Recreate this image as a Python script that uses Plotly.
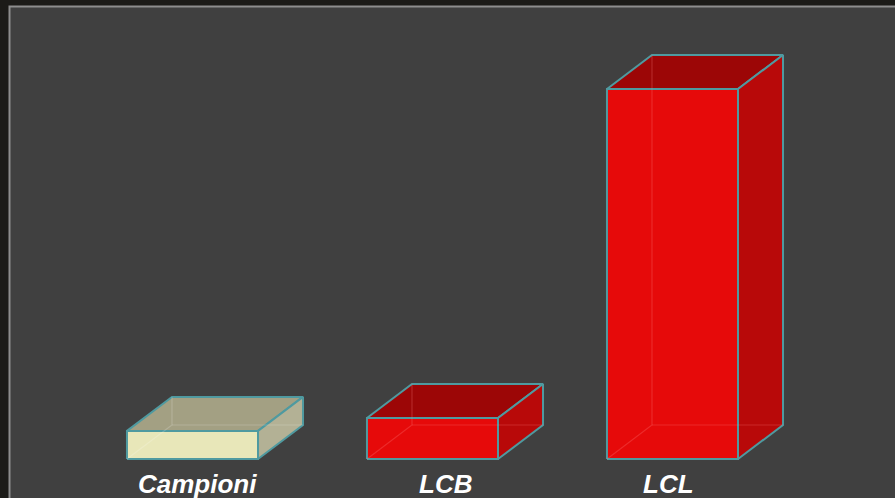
import plotly.graph_objects as go

# ---- data ----
categories = ["Campioni", "LCB", "LCL"]
values = [7.6, 11.1, 100.0]

# ---- styles ----
front_colors = ["#e8e7b9", "#e60a0a", "#e60a0a"]
top_colors = ["#a3a083", "#9c0606", "#9c0606"]
side_colors = ["#b3b195", "#b80909", "#b80909"]
hidden_colors = ["rgba(255,255,255,0.18)", "rgba(255,140,140,0.25)", "rgba(255,140,140,0.25)"]
edge_color = "#4f9aa0"
label_shift = [5, 13, -4]

W, H = 895, 498
bar_w = 0.546
dx = 0.1875          # depth offset in x units
dy = 9.19            # depth offset in y units
x_range = [-192.5 / 240, (W - 192.5) / 240]
px_per_unit = 3.7
y_range = [-(H - 459) / px_per_unit, 459 / px_per_unit]

fig = go.Figure()

for i, (cat, v) in enumerate(zip(categories, values)):
    xl, xr = i - bar_w / 2, i + bar_w / 2
    # front face
    fig.add_trace(go.Scatter(
        x=[xl, xr, xr, xl, xl], y=[0, 0, v, v, 0],
        mode="lines", fill="toself", fillcolor=front_colors[i],
        line=dict(color=edge_color, width=2), name=cat,
        hoverinfo="name", showlegend=False))
    # top face
    fig.add_trace(go.Scatter(
        x=[xl, xr, xr + dx, xl + dx, xl], y=[v, v, v + dy, v + dy, v],
        mode="lines", fill="toself", fillcolor=top_colors[i],
        line=dict(color=edge_color, width=2),
        hoverinfo="skip", showlegend=False))
    # side face
    fig.add_trace(go.Scatter(
        x=[xr, xr + dx, xr + dx, xr, xr], y=[0, dy, v + dy, v, 0],
        mode="lines", fill="toself", fillcolor=side_colors[i],
        line=dict(color=edge_color, width=2),
        hoverinfo="skip", showlegend=False))
    # hidden back edges, faint (transparent look)
    fig.add_trace(go.Scatter(
        x=[xl, xl + dx, xl + dx, None, xl + dx, xr + dx],
        y=[0, dy, v + dy, None, dy, dy],
        mode="lines", line=dict(color=hidden_colors[i], width=1.2),
        hoverinfo="skip", showlegend=False))
    fig.add_annotation(
        x=i, y=(H - 484) / H, xref="x", yref="paper",
        text="<b><i>%s</i></b>" % cat, showarrow=False,
        xshift=label_shift[i], yanchor="middle",
        font=dict(family="Liberation Sans, Arial, sans-serif", size=26, color="#ffffff"))

fig.add_shape(type="rect", xref="paper", yref="paper",
              x0=9.5 / W, x1=1.02, y0=-0.02, y1=1 - 6.5 / H,
              fillcolor="#404040", line=dict(color="#8e8e8e", width=2), layer="below")

fig.update_layout(
    width=W, height=H,
    margin=dict(l=0, r=0, t=0, b=0),
    paper_bgcolor="#1c1b18",
    plot_bgcolor="rgba(0,0,0,0)",
    xaxis=dict(range=x_range, visible=False, fixedrange=True),
    yaxis=dict(range=y_range, visible=False, fixedrange=True),
    showlegend=False,
)

fig.write_html("out.html",
               config={"displayModeBar": False},
               post_script="document.body.style.margin='0';document.body.style.overflow='hidden';")
